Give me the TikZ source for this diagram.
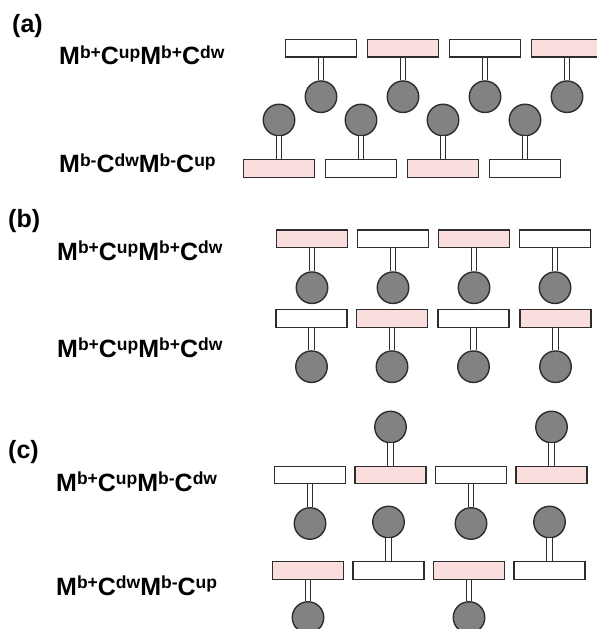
\documentclass[tikz,border=0pt]{standalone}
\usepackage{fontspec}
\setmainfont{Liberation Sans}
\definecolor{pinkf}{RGB}{250,222,222}
\definecolor{edgec}{RGB}{45,45,45}
\definecolor{ballg}{RGB}{130,130,130}
\newcommand\supx[1]{\raisebox{6.5bp}{\fontsize{17.5bp}{17bp}\selectfont #1}}
\newcommand\molec[5]{%
  \node[rbox,fill=#4] (#1r) at (#2,#3) {};
  \node[ball] (#1c) at (#2,#5) {};
  \draw[stem] (#1r) -- (#1c);}
\tikzset{
  rbox/.style={draw=edgec,line width=1.1bp,minimum width=71bp,minimum height=17.5bp,inner sep=0pt},
  ball/.style={circle,draw=edgec,line width=1.4bp,fill=ballg,minimum size=31.5bp,inner sep=0pt},
  stem/.style={draw=edgec,line width=1.1bp,double=white,double distance=4.5bp},
  lbl/.style={anchor=base west,inner sep=0pt,font=\bfseries\fontsize{25bp}{28bp}\selectfont}
}
\begin{document}
\begin{tikzpicture}[x=1bp,y=-1bp]
\clip (0,0) rectangle (597,629);
\fill[white] (0,0) rectangle (597,629);
% (a)
\node[lbl] (la) at (12,33) {(a)};
\node[lbl] (la1) at (59,65) {M\supx{b+}C\supx{up}M\supx{b+}C\supx{dw}};
\node[lbl] (la2) at (59,173) {M\supx{b-}C\supx{dw}M\supx{b-}C\supx{up}};
\molec{a1}{321}{48.3}{white}{96.7}
\molec{a2}{403}{48.3}{pinkf}{96.7}
\molec{a3}{485}{48.3}{white}{96.7}
\molec{a4}{567}{48.3}{pinkf}{96.7}
\molec{a5}{279}{168.3}{pinkf}{120}
\molec{a6}{361}{168.3}{white}{120}
\molec{a7}{443}{168.3}{pinkf}{120}
\molec{a8}{525}{168.3}{white}{120}
% (b)
\node[lbl] (lb) at (8,227) {(b)};
\node[lbl] (lb1) at (57,260) {M\supx{b+}C\supx{up}M\supx{b+}C\supx{dw}};
\node[lbl] (lb2) at (57,357) {M\supx{b+}C\supx{up}M\supx{b+}C\supx{dw}};
\molec{b1}{312}{238.7}{pinkf}{287.7}
\molec{b2}{393}{238.7}{white}{287.7}
\molec{b3}{474}{238.7}{pinkf}{287.7}
\molec{b4}{555}{238.7}{white}{287.7}
\molec{b5}{311.5}{318.3}{white}{366.7}
\molec{b6}{392}{318.3}{pinkf}{366.7}
\molec{b7}{473.5}{318.3}{white}{366.7}
\molec{b8}{555.5}{318.3}{pinkf}{366.7}
% (c)
\node[lbl] (lc) at (8,458) {(c)};
\node[lbl] (lc1) at (56,491) {M\supx{b+}C\supx{up}M\supx{b-}C\supx{dw}};
\node[lbl] (lc2) at (56,595) {M\supx{b+}C\supx{dw}M\supx{b-}C\supx{up}};
\molec{c1}{310}{475}{white}{523.5}
\molec{c2}{390.5}{475}{pinkf}{427}
\molec{c3}{471}{475}{white}{523.5}
\molec{c4}{551.5}{475}{pinkf}{427}
\molec{c5}{308}{570.5}{pinkf}{617.5}
\molec{c6}{388.5}{570.5}{white}{522}
\molec{c7}{469}{570.5}{pinkf}{617.5}
\molec{c8}{549.5}{570.5}{white}{522}
\end{tikzpicture}
\end{document}
